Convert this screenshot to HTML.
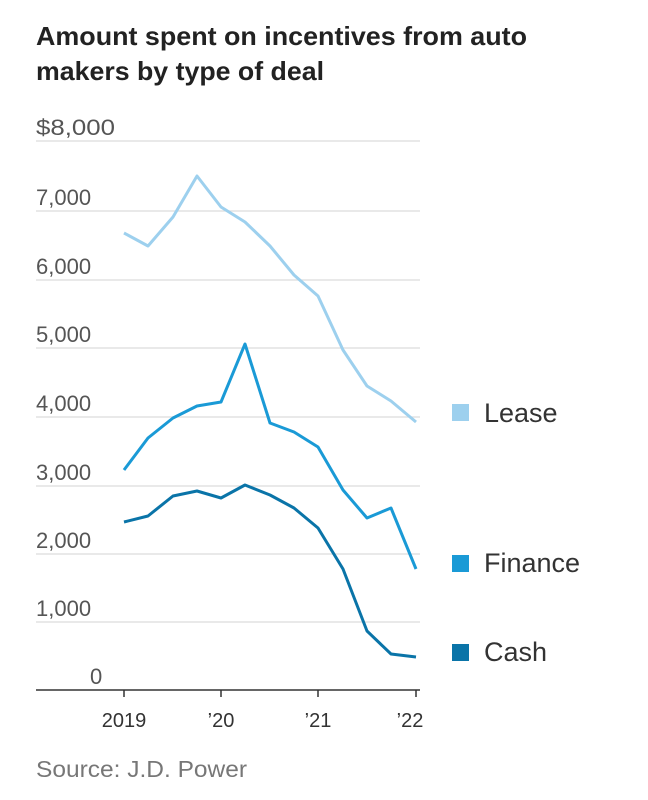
<!DOCTYPE html>
<html><head><meta charset="utf-8"><style>
body{margin:0;background:#fff;}
svg{display:block;font-family:"Liberation Sans",sans-serif;}
</style></head><body>
<svg width="648" height="800" viewBox="0 0 648 800" xmlns="http://www.w3.org/2000/svg">
<text x="36" y="45" font-size="26" font-weight="bold" fill="#222" textLength="491" lengthAdjust="spacingAndGlyphs">Amount spent on incentives from auto</text>
<text x="36" y="80" font-size="26" font-weight="bold" fill="#222" textLength="288" lengthAdjust="spacingAndGlyphs">makers by type of deal</text>
<g stroke="#dcdcdc" stroke-width="1.3">
<line x1="36" x2="420" y1="141" y2="141"/><line x1="36" x2="420" y1="211" y2="211"/>
<line x1="36" x2="420" y1="280" y2="280"/><line x1="36" x2="420" y1="348" y2="348"/>
<line x1="36" x2="420" y1="417" y2="417"/><line x1="36" x2="420" y1="486" y2="486"/>
<line x1="36" x2="420" y1="554" y2="554"/><line x1="36" x2="420" y1="622" y2="622"/>
</g>
<g font-size="22" fill="#555">
<text x="36" y="135" textLength="79" lengthAdjust="spacingAndGlyphs">$8,000</text>
<text x="36" y="205">7,000</text>
<text x="36" y="274">6,000</text>
<text x="36" y="342">5,000</text>
<text x="36" y="411">4,000</text>
<text x="36" y="480">3,000</text>
<text x="36" y="548">2,000</text>
<text x="36" y="616">1,000</text>
<text x="90" y="684">0</text>
</g>
<line x1="36" x2="420" y1="690" y2="690" stroke="#333" stroke-width="1.5"/>
<g stroke="#333" stroke-width="1.5">
<line x1="124" x2="124" y1="690" y2="697"/><line x1="221" x2="221" y1="690" y2="697"/>
<line x1="318" x2="318" y1="690" y2="697"/><line x1="416" x2="416" y1="690" y2="697"/>
</g>
<g font-size="20" fill="#333" text-anchor="middle">
<text x="124" y="727">2019</text><text x="221" y="727">’20</text>
<text x="318" y="727">’21</text><text x="410" y="727">’22</text>
</g>
<g fill="none" stroke-width="3" stroke-linejoin="round">
<polyline stroke="#9dd0ee" points="124,233 148,246 173,217 197,176 221,207 245,222 270,246 294,275 318,296 343,350 367,386 391,401 416,422"/>
<polyline stroke="#1a9ad6" points="124,470 148,438 173,418 197,406 221,402 245,344 270,423 294,432 318,447 343,490 367,518 391,508 416,569"/>
<polyline stroke="#0a74a8" points="124,522 148,516 173,496 197,491 221,498 245,485 270,495 294,508 318,528 343,569 367,631 391,654 416,657"/>
</g>
<rect x="452" y="404" width="17" height="17" fill="#9dd0ee"/>
<rect x="452" y="555" width="17" height="17" fill="#1a9ad6"/>
<rect x="452" y="644" width="17" height="17" fill="#0a74a8"/>
<g font-size="27" fill="#333">
<text x="484" y="422">Lease</text>
<text x="484" y="572">Finance</text>
<text x="484" y="661">Cash</text>
</g>
<text x="36" y="777" font-size="23" fill="#777" textLength="211" lengthAdjust="spacingAndGlyphs">Source: J.D. Power</text>
</svg>
</body></html>
